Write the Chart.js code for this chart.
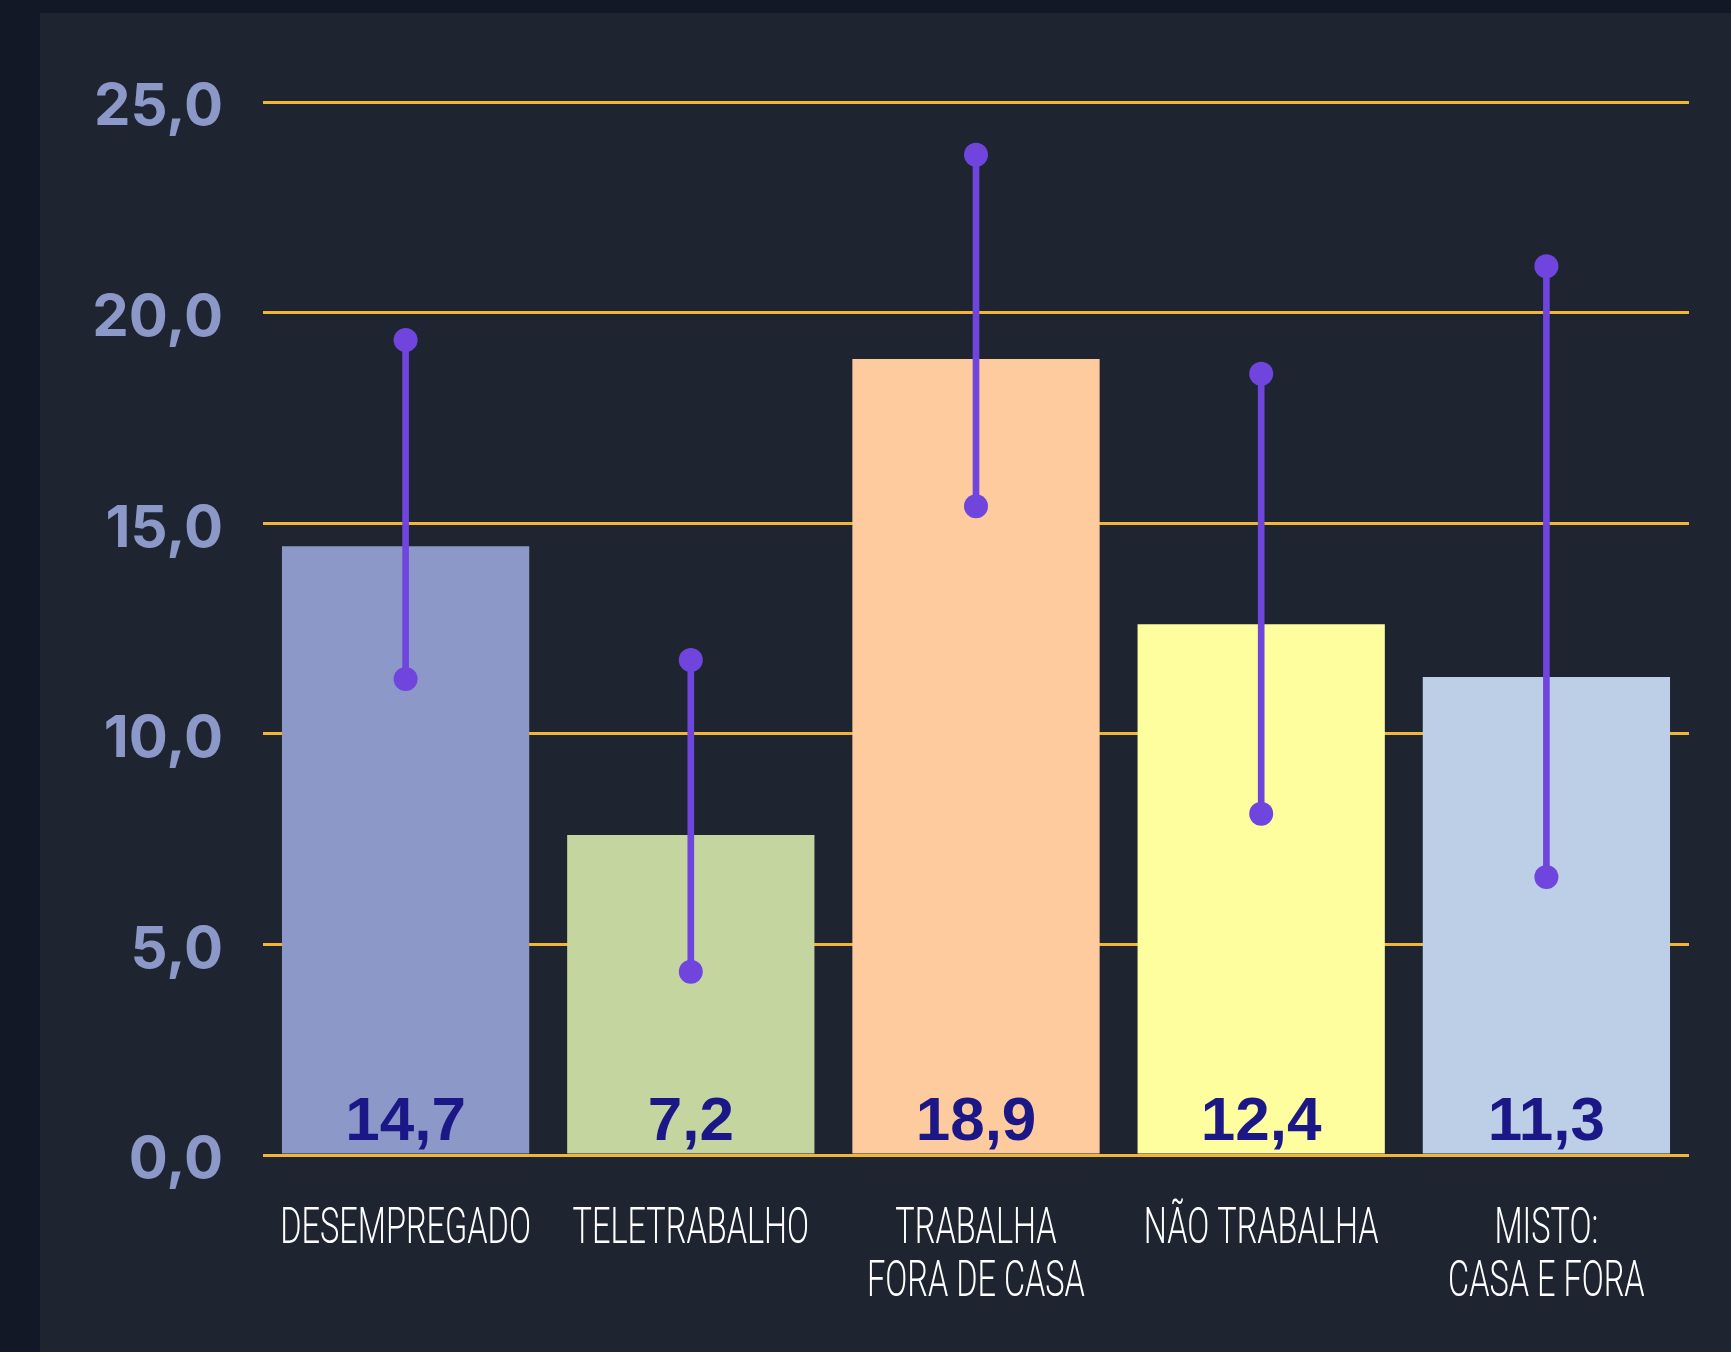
<!DOCTYPE html>
<html>
<head>
<meta charset="utf-8">
<script src="https://cdn.jsdelivr.net/npm/chart.js@4.4.1/dist/chart.umd.min.js"></script>
<style>
  html, body { margin:0; padding:0; background:#121825; width:1731px; height:1352px; overflow:hidden; }
  #panel { position:absolute; left:40px; top:13px; width:1691px; height:1339px; background:#1E2531; }
</style>
</head>
<body>
<div id="panel"><canvas id="myChart"></canvas></div>
<script>
let categories=[['DESEMPREGADO'],['TELETRABALHO'],['TRABALHA','FORA DE CASA'],['NÃO TRABALHA'],['MISTO:','CASA E FORA']];
let barValues=[14.45,7.6,18.9,12.6,11.35];
let valueLabels=['14,7','7,2','18,9','12,4','11,3'];
let lowValues=[11.3,4.35,15.4,8.1,6.6];
let highValues=[19.35,11.75,23.75,18.55,21.1];
let yTicks=[0,5,10,15,20,25];
let barColors=['#8C98C8','#C4D5A0','#FECB9E','#FEFE9E','#BCCFE6'];

let errorColor='#6F45DD';

// ranges for the error whiskers
let ranges=[];
for(let i=0;i<lowValues.length;i++){
    ranges.push([lowValues[i],highValues[i]]);
}

// writes the value at the foot of each bar
const barLabels={
    id:'barLabels',
    afterDatasetsDraw(chart){
        let ctx=chart.ctx;
        let meta=chart.getDatasetMeta(0);
        let y0=chart.scales.y.getPixelForValue(0);
        ctx.save();
        ctx.font='bold 62px "Liberation Sans"';
        ctx.fillStyle='#1C1787';
        ctx.textAlign='center';
        ctx.textBaseline='alphabetic';
        meta.data.forEach(function(bar,i){
            ctx.fillText(valueLabels[i],bar.x,y0-15);
        });
        ctx.restore();
    }
};

// category names under the axis, in a narrow light face
const xLabels={
    id:'xLabels',
    afterDraw(chart){
        let ctx=chart.ctx;
        let xs=chart.scales.x;
        let y0=chart.scales.y.getPixelForValue(0);
        ctx.save();
        ctx.font='300 50px Roboto';
        ctx.fillStyle='#FFFFFF';
        ctx.textAlign='center';
        ctx.textBaseline='alphabetic';
        categories.forEach(function(lines,i){
            let x=xs.getPixelForTick(i);
            lines.forEach(function(txt,j){
                ctx.save();
                ctx.translate(x,y0+88+j*53);
                ctx.scale(0.65,1);
                ctx.fillText(txt,0,0);
                ctx.restore();
            });
        });
        ctx.restore();
    }
};

let ctx=document.getElementById('myChart').getContext('2d');
let chart=new Chart(ctx,{
    type:'bar',
    data:{
        labels:categories,
        datasets:[
            {
                label:'valor',
                data:barValues,
                backgroundColor:barColors,
                borderWidth:0,
                categoryPercentage:1,
                barPercentage:0.867,
                grouped:false,
                order:3
            },
            {
                label:'intervalo',
                data:ranges,
                backgroundColor:errorColor,
                borderWidth:0,
                barThickness:6,
                grouped:false,
                order:2
            },
            {
                type:'line',
                label:'min',
                data:lowValues,
                showLine:false,
                pointRadius:12,
                pointBackgroundColor:errorColor,
                pointBorderWidth:0,
                order:1
            },
            {
                type:'line',
                label:'max',
                data:highValues,
                showLine:false,
                pointRadius:12,
                pointBackgroundColor:errorColor,
                pointBorderWidth:0,
                order:1
            }
        ]
    },
    options:{
        responsive:true,
        maintainAspectRatio:false,
        animation:false,
        layout:{padding:{top:89,right:42,left:0,bottom:0}},
        plugins:{legend:{display:false},tooltip:{enabled:false}},
        scales:{
            x:{
                offset:true,
                grid:{display:false,drawTicks:false},
                border:{display:false},
                ticks:{display:false},
                afterFit(scale){ scale.height=197; }
            },
            y:{
                min:0,
                max:25,
                afterBuildTicks(scale){ scale.ticks=yTicks.map(v=>({value:v})); },
                grid:{color:'#F2B534',lineWidth:3,drawTicks:false},
                border:{display:false},
                ticks:{
                    color:'#8C98C8',
                    padding:40,
                    labelOffset:6,
                    font:{family:'Inter',size:58,weight:'700'},
                    callback:function(v){ return v.toFixed(1).replace('.',','); }
                },
                afterFit(scale){ scale.width=223; }
            }
        }
    },
    plugins:[barLabels,xLabels]
});
</script>
</body>
</html>
